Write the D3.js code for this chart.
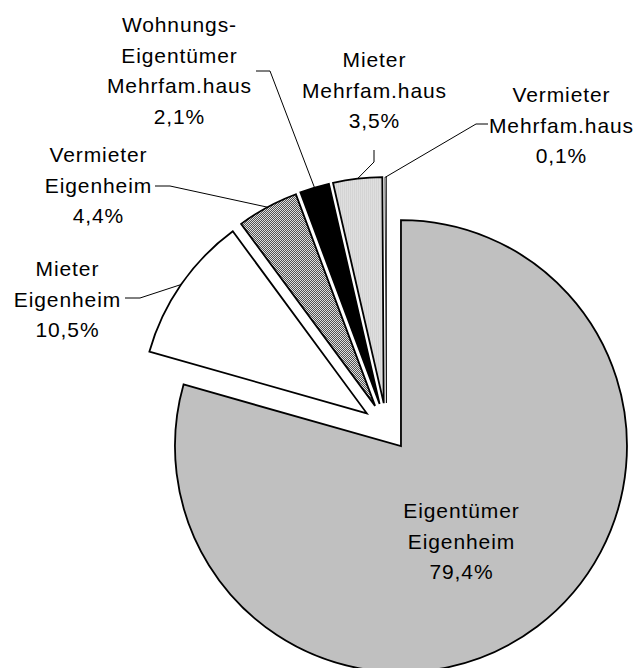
<!DOCTYPE html>
<html>
<head>
<meta charset="utf-8">
<script src="https://cdn.jsdelivr.net/npm/d3@7"></script>
<style>
  body { margin: 0; background: #fff; }
  text { font-family: "Liberation Sans", Arial, sans-serif; font-size: 21px; letter-spacing: 0.9px; fill: #000; }
</style>
</head>
<body>
<div id="chart"></div>
<script>
var width = 635, height = 668;

// data, clockwise from 12 o'clock
var categories = ["Eigentümer Eigenheim", "Mieter Eigenheim", "Vermieter Eigenheim",
                  "Wohnungs-Eigentümer Mehrfam.haus", "Mieter Mehrfam.haus", "Vermieter Mehrfam.haus"]
var values = [79.4, 10.5, 4.4, 2.1, 3.5, 0.1]
var labelLines = [
    ["Eigentümer", "Eigenheim", "79,4%"],
    ["Mieter", "Eigenheim", "10,5%"],
    ["Vermieter", "Eigenheim", "4,4%"],
    ["Wohnungs-", "Eigentümer", "Mehrfam.haus", "2,1%"],
    ["Mieter", "Mehrfam.haus", "3,5%"],
    ["Vermieter", "Mehrfam.haus", "0,1%"]
]
var fills = ["#c0c0c0", "#ffffff", "url(#checker)", "#000000", "url(#stripes)", "#ffffff"]

// label layout: center x, first baseline, leader elbow (null = no leader)
var labelPos = [
    {x: 461, y: 518, leader: null},
    {x: 67,  y: 276, leader: [[125, 298], [140, 298]]},
    {x: 98,  y: 162, leader: [[155, 186], [170, 186]]},
    {x: 179, y: 32,  leader: [[256, 71], [270, 71]]},
    {x: 374, y: 67,  leader: [[374, 150], [374, 162]]},
    {x: 561, y: 102, leader: [[488, 124], [476, 124]]}
]

var cx = 386.5, cy = 427, radius = 226, explode = 24, lineH = 30.7;

var svg = d3.select("#chart").append("svg")
    .attr("width", width)
    .attr("height", height);

//Patterns
var defs = svg.append("defs");
var checker = defs.append("pattern")
    .attr("id", "checker").attr("patternUnits", "userSpaceOnUse")
    .attr("width", 2).attr("height", 2);
checker.append("rect").attr("width", 2).attr("height", 2).attr("fill", "#fff");
checker.append("rect").attr("width", 1).attr("height", 1).attr("fill", "#333");
checker.append("rect").attr("x", 1).attr("y", 1).attr("width", 1).attr("height", 1).attr("fill", "#333");

var stripes = defs.append("pattern")
    .attr("id", "stripes").attr("patternUnits", "userSpaceOnUse")
    .attr("width", 2).attr("height", 2);
stripes.append("rect").attr("width", 2).attr("height", 2).attr("fill", "#e6e6e6");
stripes.append("rect").attr("width", 1).attr("height", 2).attr("fill", "#cdcdcd");

var data = values.map(function(v, i){ return {name: categories[i], value: v, i: i}; });

var pie = d3.pie().sort(null).value(d => d.value);
var arcs = pie(data);
var arc = d3.arc().innerRadius(0).outerRadius(radius);

function offset(d){
    var m = (d.startAngle + d.endAngle) / 2;
    return [Math.sin(m) * explode, -Math.cos(m) * explode];
}

var g = svg.append("g").attr("transform", "translate(" + cx + "," + cy + ")");

g.selectAll(".slice")
    .data(arcs)
    .enter().append("path")
    .attr("class", "slice")
    .attr("transform", d => "translate(" + offset(d) + ")")
    .attr("d", arc)
    .attr("fill", d => fills[d.data.i])
    .attr("stroke", "#000")
    .attr("stroke-width", d => d.value < 1 ? 0.8 : 1.8)
    .attr("stroke-linejoin", "miter");

//Leader lines
arcs.forEach(function(d){
    var p = labelPos[d.data.i];
    if(!p.leader) return;
    var m = (d.startAngle + d.endAngle) / 2;
    var end = [cx + Math.sin(m) * (radius + explode), cy - Math.cos(m) * (radius + explode)];
    var pts = p.leader.concat([end]);
    svg.append("path")
        .attr("d", d3.line()(pts))
        .attr("fill", "none")
        .attr("stroke", "#000")
        .attr("stroke-width", 1);
});

//Labels
labelLines.forEach(function(lines, i){
    var p = labelPos[i];
    var t = svg.append("text")
        .attr("text-anchor", "middle");
    lines.forEach(function(s, j){
        t.append("tspan")
            .attr("x", p.x + 0.45)
            .attr("y", p.y + j * lineH)
            .text(s);
    });
});
</script>
</body>
</html>
